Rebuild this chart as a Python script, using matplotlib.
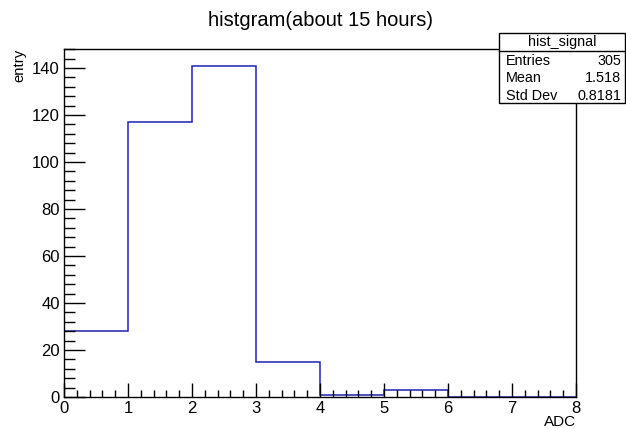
import numpy as np
import matplotlib
matplotlib.use("Agg")
import matplotlib.pyplot as plt
from matplotlib.patches import Rectangle
from matplotlib.ticker import MultipleLocator

plt.rcParams['font.family'] = ['Liberation Sans', 'DejaVu Sans']

# ADC histogram, one bin per integer count
bin_edges = [0, 1, 2, 3, 4, 5, 6, 7, 8]
counts = [28, 117, 141, 15, 1, 3, 0, 0]
hist_name = "hist_signal"
stat_labels = ["Entries", "Mean", "Std Dev"]

W, H = 626, 429
fig = plt.figure(figsize=(W / 100, H / 100), dpi=100)
ax = fig.add_axes([64 / W, 1 - 397 / H, (576 - 64) / W, (397 - 49) / H])

ax.stairs(counts, bin_edges, color='#2020b0', lw=1.1)

ax.set_xlim(bin_edges[0], bin_edges[-1])
ax.set_ylim(0, max(counts) * 1.05)

ax.xaxis.set_major_locator(MultipleLocator(1))
ax.xaxis.set_minor_locator(MultipleLocator(0.2))
ax.yaxis.set_major_locator(MultipleLocator(20))
ax.yaxis.set_minor_locator(MultipleLocator(4))
ax.tick_params(axis='both', which='both', direction='in', top=False, right=False,
               labelsize=12, width=1, color='black')
ax.tick_params(axis='y', which='major', length=15, pad=3)
ax.tick_params(axis='y', which='minor', length=8)
ax.tick_params(axis='x', which='major', length=10, pad=3)
ax.tick_params(axis='x', which='minor', length=5)
for sp in ax.spines.values():
    sp.set_linewidth(1)

fig.text(320 / W, 1 - 20 / H, "histgram(about 15 hours)", ha='center', va='center', fontsize=14.5)
fig.text(19 / W, 1 - 49 / H, "entry", rotation=90, ha='center', va='top', fontsize=10.7)
fig.text(576 / W, 1 - 422 / H, "ADC", ha='right', va='center', fontsize=11)

# stats box
vals = np.array(counts, dtype=float)
lows = np.array(bin_edges[:-1], dtype=float)
n = vals.sum()
mean = (vals * lows).sum() / n
std = np.sqrt((vals * (lows - mean) ** 2).sum() / n)
stat_values = ["%d" % n, "%.3f" % mean, "%.4f" % std]

bx0, bx1, by0, by1 = 499, 625, 33, 103
fig.patches.append(Rectangle((bx0 / W, 1 - by1 / H), (bx1 - bx0) / W, (by1 - by0) / H,
                             transform=fig.transFigure, facecolor='white',
                             edgecolor='black', lw=1, zorder=5))
fig.add_artist(plt.Line2D([bx0 / W, bx1 / W], [1 - 51 / H, 1 - 51 / H],
                          transform=fig.transFigure, color='black', lw=1, zorder=6))
fig.text((bx0 + bx1) / 2 / W, 1 - 42 / H, hist_name, ha='center', va='center',
         fontsize=10.4, zorder=7)
for i, (lab, v) in enumerate(zip(stat_labels, stat_values)):
    y = 1 - (61 + 17.3 * i) / H
    fig.text(506 / W, y, lab, ha='left', va='center', fontsize=10.4, zorder=7)
    fig.text(621 / W, y, v, ha='right', va='center', fontsize=10.4, zorder=7)

fig.savefig("out.png", dpi=100)
